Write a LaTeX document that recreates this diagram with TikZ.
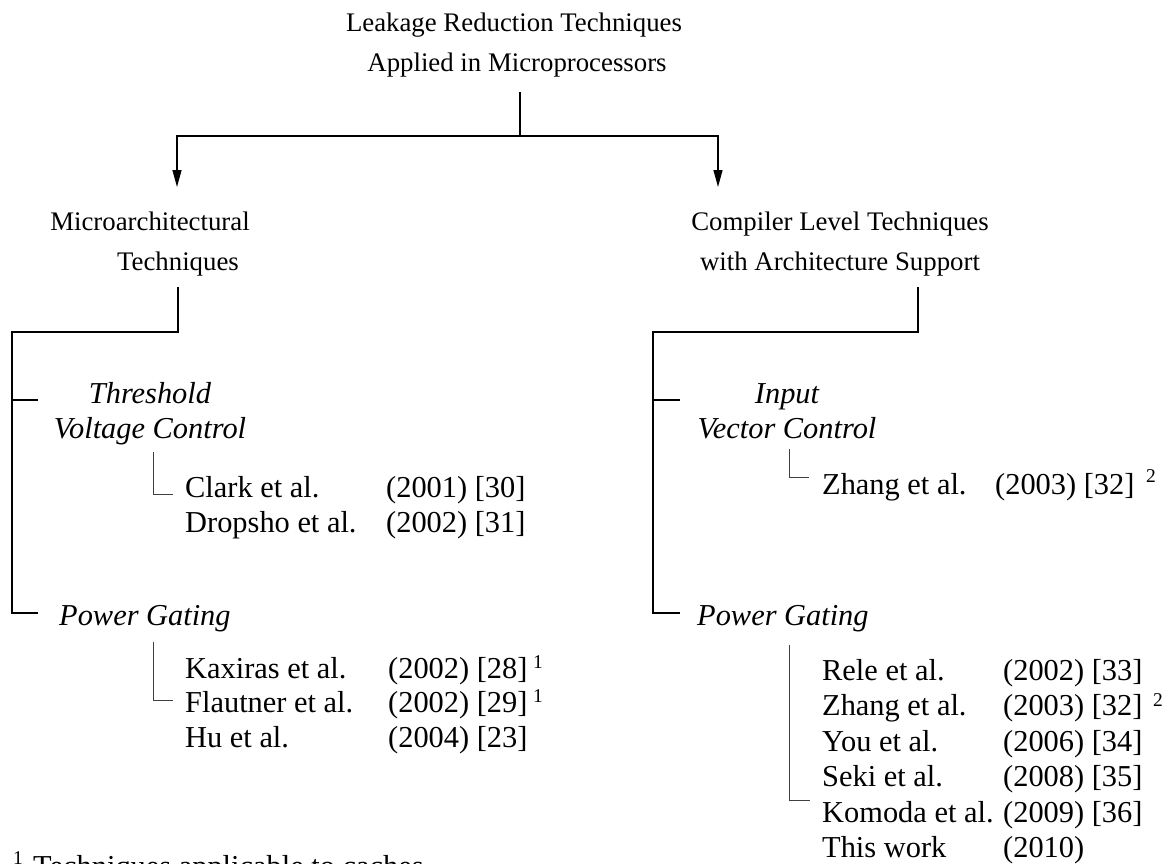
\documentclass[tikz,border=0pt]{standalone}
\usepackage{fontspec}
\setmainfont{Liberation Serif}
\usetikzlibrary{arrows.meta}
\begin{document}
\begin{tikzpicture}[x=1pt,y=-1pt,
  big/.style={font=\fontsize{26.8}{32}\selectfont, inner sep=0pt, anchor=base},
  txt/.style={font=\fontsize{30.4}{36}\selectfont, inner sep=0pt, anchor=base west},
  itx/.style={font=\fontsize{30.4}{36}\selectfont\itshape, inner sep=0pt, anchor=base},
  sup/.style={font=\fontsize{19.5}{22}\selectfont, inner sep=0pt, anchor=base west},
  line/.style={line width=1.3pt, black},
  thin/.style={line width=0.9pt, black!75},
  arr/.style={line width=1.3pt, -{Triangle[length=17pt,width=9pt]}}]
\useasboundingbox (0,0) rectangle (1169,864);
% level 0
\node[big] (t1) at (514,32) {Leakage Reduction Techniques};
\node[big] (t2) at (517,72) {Applied in Microprocessors};
% level 1
\node[big] (m1) at (150,230) {Microarchitectural};
\node[big] (m2) at (178,270) {Techniques};
\node[big] (c1) at (840,230) {Compiler Level Techniques};
\node[big] (c2) at (840,270) {with Architecture Support};
% level 2
\node[itx] (th1) at (150,403) {Threshold};
\node[itx] (th2) at (150,438) {Voltage Control};
\node[itx] (iv1) at (787,403) {Input};
\node[itx] (iv2) at (787,438) {Vector Control};
\node[itx, anchor=base west] (pgL) at (59,625) {Power Gating};
\node[itx, anchor=base west] (pgR) at (697,625) {Power Gating};
% citations left, threshold
\node[txt] (clark) at (185,497) {Clark et al.};
\node[txt] (clarky) at (386,497) {(2001) [30]};
\node[txt] (drop) at (185,532) {Dropsho et al.};
\node[txt] (dropy) at (386,532) {(2002) [31]};
% citations right, input vector
\node[txt] (zh1) at (822,494) {Zhang et al.};
\node[txt] (zh1y) at (995,494) {(2003) [32]};
\node[sup] (zh1s) at (1146,482) {2};
% citations left, power gating
\node[txt] (kax) at (185,678) {Kaxiras et al.};
\node[txt] (kaxy) at (388,678) {(2002) [28]};
\node[sup] (kaxs) at (533,668) {1};
\node[txt] (fla) at (185,712) {Flautner et al.};
\node[txt] (flay) at (388,712) {(2002) [29]};
\node[sup] (flas) at (533,702) {1};
\node[txt] (hu) at (185,747) {Hu et al.};
\node[txt] (huy) at (388,747) {(2004) [23]};
% citations right, power gating
\node[txt] (rele) at (822,680) {Rele et al.};
\node[txt] (reley) at (1003,680) {(2002) [33]};
\node[txt] (zh2) at (822,715) {Zhang et al.};
\node[txt] (zh2y) at (1003,715) {(2003) [32]};
\node[sup] (zh2s) at (1153,706) {2};
\node[txt] (you) at (822,751) {You et al.};
\node[txt] (youy) at (1003,751) {(2006) [34]};
\node[txt] (seki) at (822,786) {Seki et al.};
\node[txt] (sekiy) at (1003,786) {(2008) [35]};
\node[txt] (kom) at (822,822) {Komoda et al.};
\node[txt] (komy) at (1003,822) {(2009) [36]};
\node[txt] (this) at (822,857) {This work};
\node[txt] (thisy) at (1003,857) {(2010)};
% footnote (cut by the lower edge, as in the reference)
\node[sup] (fn1) at (13,864) {1};
\node[txt] (fn) at (33,876) {Techniques applicable to caches};
% connectors level 0 -> 1
\coordinate (j) at (520,136);
\coordinate (aL) at (177,187);
\coordinate (aR) at (718,187);
\draw[line] (520,92) -- (j);
\draw[arr] (j) -| (aL);
\draw[arr] (j) -| (aR);
% left bracket
\draw[line] (178,287) -- (178,332) -- (12,332) -- (12,613) -- (38,613);
\draw[line] (12,400) -- (38,400);
% right bracket
\draw[line] (918,287) -- (918,332) -- (653,332) -- (653,613) -- (680,613);
\draw[line] (653,400) -- (680,400);
% small connectors
\draw[thin] (153,452) -- (153,494) -- (173,494);
\draw[thin] (789,449) -- (789,477) -- (809,477);
\draw[thin] (153,642) -- (153,700) -- (173,700);
\draw[thin] (789,645) -- (789,800) -- (810,800);
\end{tikzpicture}
\end{document}
